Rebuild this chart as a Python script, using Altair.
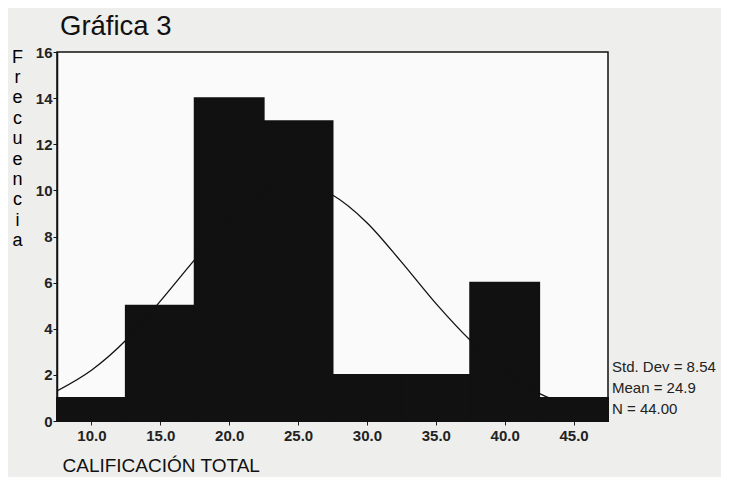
import altair as alt
import pandas as pd

# Histogram bins (centers) and frequencies
bin_centers = [10, 15, 20, 25, 30, 35, 40, 45]
counts = [1, 5, 14, 13, 2, 2, 6, 1]

# Normal curve
curve_x = [7.5, 10, 12.5, 15, 17.5, 20, 22.5, 25, 27.5, 30, 32.5, 35, 37.5, 40, 42.5, 45, 47.5]
curve_y = [1.3, 2.2, 3.5, 5.2, 7.0, 8.7, 9.9, 10.3, 9.8, 8.6, 6.9, 5.1, 3.5, 2.2, 1.2, 0.65, 0.3]

x_ticks = [10, 15, 20, 25, 30, 35, 40, 45]
y_ticks = [0, 2, 4, 6, 8, 10, 12, 14, 16]

stats_labels = ["Std. Dev", "Mean", "N"]
stats_values = ["8.54", "24.9", "44.00"]

title_text = "Gráfica 3"
x_title = "CALIFICACIÓN TOTAL"
y_title = "Frecuencia"

bars_df = pd.DataFrame({"center": bin_centers, "count": counts})
curve_df = pd.DataFrame({"x": curve_x, "y": curve_y})
stats_df = pd.DataFrame({"txt": ["\n".join(f"{l} = {v}" for l, v in zip(stats_labels, stats_values))]})

FONT = "Liberation Sans, Arial, sans-serif"
xscale = alt.Scale(domain=[7.5, 47.5], nice=False, zero=False)
yscale = alt.Scale(domain=[0, 16], nice=False)

bars = alt.Chart(bars_df).transform_calculate(
    lo="datum.center - 2.5", hi="datum.center + 2.5"
).mark_rect(color="#111111", stroke="#111111", strokeWidth=2, strokeOpacity=1, opacity=1).encode(
    x=alt.X("lo:Q", scale=xscale,
            axis=alt.Axis(values=x_ticks, format=".1f", domain=False, grid=False,
                          tickSize=4, tickColor="#222", labelFontSize=15, labelFontWeight="bold",
                          labelColor="#222", labelFont=FONT, labelPadding=3,
                          title=x_title, titleFont=FONT, titleFontSize=19, titleFontWeight="normal",
                          titleColor="#111", titleAnchor="start", titleAlign="left",
                          titleX=5, titleY=44, titleBaseline="middle")),
    x2="hi:Q",
    y=alt.Y("count:Q", scale=yscale,
            axis=alt.Axis(values=y_ticks, grid=False, domainColor="#111", domainWidth=1.5,
                          tickSize=4, tickColor="#111", labelFontSize=15, labelFontWeight="bold",
                          labelColor="#222", labelFont=FONT, labelPadding=1,
                          title=list(y_title), titleFont=FONT, titleFontSize=18,
                          titleFontWeight="normal", titleColor="#000", titleAngle=0,
                          titleAlign="center", titleBaseline="top", titleX=-40, titleY=-4,
                          titleLineHeight=20.4)),
    y2=alt.datum(0),
)

curve = alt.Chart(curve_df).mark_line(color="#111111", strokeWidth=1.3,
                                      interpolate="monotone", clip=True).encode(
    x=alt.X("x:Q", scale=xscale),
    y=alt.Y("y:Q", scale=yscale),
)

stats = alt.Chart(stats_df).mark_text(
    align="left", baseline="top", lineBreak="\n", lineHeight=21,
    font=FONT, fontSize=15, color="#222"
).encode(
    x=alt.value(555), y=alt.value(308), text="txt:N"
)

chart = alt.layer(bars, curve, stats).properties(
    width=551, height=369,
    autosize=alt.AutoSizeParams(type="none"),
    padding={"left": 49, "top": 44, "right": 113, "bottom": 56},
    background="#eeeeec",
    title=alt.TitleParams(title_text, anchor="start", frame="group", dx=3, offset=5,
                          font=FONT, fontSize=27.5, fontWeight="normal", color="#111"),
).configure_view(stroke="#111", strokeWidth=1.5, fill="#fafafa")

chart.save("out.html", embed_options={"renderer": "svg", "actions": False})
